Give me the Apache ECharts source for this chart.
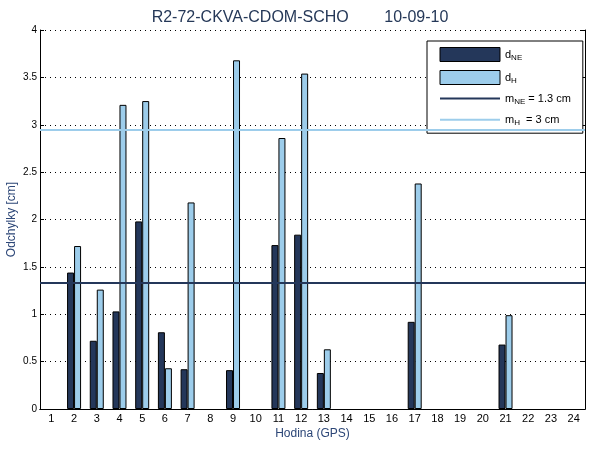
<!DOCTYPE html>
<html>
<head>
<meta charset="utf-8">
<script src="https://cdn.jsdelivr.net/npm/echarts@6/dist/echarts.min.js"></script>
<style>
	html, body { margin: 0; padding: 0; background: #fff; }
	#chart { width: 600px; height: 450px; }
</style>
</head>
<body>
<div id="chart"></div>
<script>
	// hodiny GPS
	var hours = ['1', '2', '3', '4', '5', '6', '7', '8', '9', '10', '11', '12',
		'13', '14', '15', '16', '17', '18', '19', '20', '21', '22', '23', '24'];
	// d_NE [cm]
	var dNE = [null, 1.44, 0.72, 1.03, 1.98, 0.81, 0.42, null, 0.41, null, 1.73, 1.84,
		0.38, null, null, null, 0.92, null, null, null, 0.68, null, null, null];
	// d_H [cm]
	var dH = [null, 1.72, 1.26, 3.21, 3.25, 0.43, 2.18, null, 3.68, null, 2.86, 3.54,
		0.63, null, null, null, 2.38, null, null, null, 0.99, null, null, null];
	// prumery
	var mNE = 1.33;
	var mH = 2.95;
	var yTicks = [0, 0.5, 1, 1.5, 2, 2.5, 3, 3.5, 4];

	var darkColor = '#24375a';
	var lightColor = '#9dcdeb';
	var textBlue = '#2c4677';
	var font = 'Liberation Sans';

	var rich = {
		n: { fontFamily: font, fontSize: 11, color: '#000' },
		s: { fontFamily: font, fontSize: 8, color: '#000', padding: [7, 0, 0, 0] }
	};

	var chart = echarts.init(document.getElementById('chart'));

	var option = {
		animation: false,
		title: {
			text: 'R2-72-CKVA-CDOM-SCHO        10-09-10',
			left: 'center',
			top: 5,
			textStyle: { fontFamily: font, fontSize: 16, fontWeight: 'normal', color: '#253858' }
		},
		legend: {
			orient: 'vertical',
			left: 427,
			top: 41,
			padding: [6, 12, 6, 12],
			itemGap: 8,
			itemWidth: 60,
			itemHeight: 14,
			borderColor: '#000',
			borderWidth: 1,
			backgroundColor: '#fff',
			data: [
				{ name: 'dNE', icon: 'rect', itemStyle: { borderColor: '#000', borderWidth: 1 } },
				{ name: 'dH', icon: 'rect', itemStyle: { borderColor: '#000', borderWidth: 1 } },
				{ name: 'mNE', itemStyle: { opacity: 0 } },
				{ name: 'mH', itemStyle: { opacity: 0 } }
			],
			formatter: function(name) {
				if(name == 'dNE') return '{n|d}{s|NE}';
				if(name == 'dH') return '{n|d}{s|H}';
				if(name == 'mNE') return '{n|m}{s|NE}{n| = 1.3 cm}';
				return '{n|m}{s|H}{n|  = 3 cm}';
			},
			textStyle: { rich: rich }
		},
		grid: { left: 40, right: 15, top: 30, bottom: 41, containLabel: false, outerBoundsMode: 'none' },
		xAxis: [{
			type: 'category',
			data: hours,
			name: 'Hodina (GPS)',
			nameLocation: 'middle',
			nameGap: 19,
			nameMoveOverlap: false,
			nameTextStyle: { fontFamily: font, fontSize: 12, color: textBlue },
			axisLine: { lineStyle: { color: '#000', width: 1 } },
			axisTick: { inside: true, alignWithLabel: true, length: 5, lineStyle: { color: '#000' } },
			axisLabel: { fontFamily: font, fontSize: 11, color: '#000', margin: 4, interval: 0 },
			splitLine: { show: false }
		}, {
			type: 'category',
			data: hours,
			position: 'top',
			axisLine: { lineStyle: { color: '#000', width: 1 } },
			axisTick: { inside: true, alignWithLabel: true, length: 5, lineStyle: { color: '#000' } },
			axisLabel: { show: false },
			splitLine: { show: false }
		}],
		yAxis: [{
			type: 'value',
			min: yTicks[0],
			max: yTicks[yTicks.length - 1],
			interval: 0.5,
			name: 'Odchylky [cm]',
			nameLocation: 'middle',
			nameGap: 22,
			nameMoveOverlap: false,
			nameTextStyle: { fontFamily: font, fontSize: 12, color: textBlue },
			axisLine: { show: true, lineStyle: { color: '#000', width: 1 } },
			axisTick: { show: true, inside: true, length: 4, lineStyle: { color: '#000' } },
			axisLabel: { fontFamily: font, fontSize: 10, color: '#000', margin: 3 },
			splitLine: { show: true, lineStyle: { color: '#000', type: [1, 4], width: 1 } }
		}, {
			type: 'value',
			position: 'right',
			min: yTicks[0],
			max: yTicks[yTicks.length - 1],
			interval: 0.5,
			axisLine: { show: true, lineStyle: { color: '#000', width: 1 } },
			axisTick: { show: true, inside: true, length: 4, lineStyle: { color: '#000' } },
			axisLabel: { show: false },
			splitLine: { show: false }
		}],
		series: [{
			name: 'dNE',
			type: 'bar',
			data: dNE,
			barWidth: 7,
			barGap: '0%',
			itemStyle: { color: darkColor, borderColor: '#000', borderWidth: 1 }
		}, {
			name: 'dH',
			type: 'bar',
			data: dH,
			barWidth: 7,
			barGap: '0%',
			itemStyle: { color: lightColor, borderColor: '#000', borderWidth: 1 }
		}, {
			name: 'mNE',
			type: 'line',
			data: [],
			symbol: 'none',
			lineStyle: { color: darkColor, width: 2 },
			itemStyle: { color: darkColor },
			markLine: {
				silent: true,
				symbol: 'none',
				label: { show: false },
				lineStyle: { color: darkColor, width: 2, type: 'solid' },
				data: [{ yAxis: mNE }]
			}
		}, {
			name: 'mH',
			type: 'line',
			data: [],
			symbol: 'none',
			lineStyle: { color: lightColor, width: 2 },
			itemStyle: { color: lightColor },
			markLine: {
				silent: true,
				symbol: 'none',
				label: { show: false },
				lineStyle: { color: lightColor, width: 2, type: 'solid' },
				data: [{ yAxis: mH }]
			}
		}]
	};

	chart.setOption(option);
</script>
</body>
</html>
